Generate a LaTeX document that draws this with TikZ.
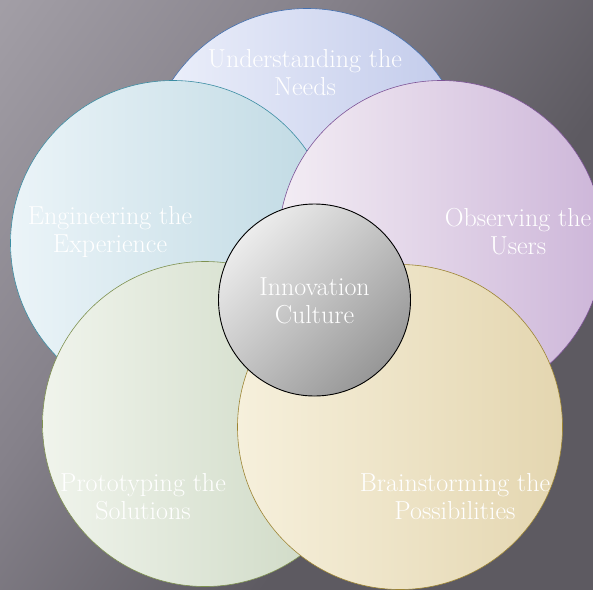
\documentclass[tikz,border=0pt]{standalone}
\usetikzlibrary{positioning}

\definecolor{bgdark}{HTML}{5D5A61}
\definecolor{bgmid}{HTML}{85818A}
\definecolor{bglight}{HTML}{B6B2B9}
\definecolor{needsL}{HTML}{EEF1FB}
\definecolor{needsR}{HTML}{C0C9EA}
\definecolor{needsE}{HTML}{4470B0}
\definecolor{engL}{HTML}{EBF4F8}
\definecolor{engR}{HTML}{BFD9E3}
\definecolor{engE}{HTML}{3C8DA3}
\definecolor{obsL}{HTML}{F3EDF4}
\definecolor{obsR}{HTML}{CDB6D9}
\definecolor{obsE}{HTML}{7D5497}
\definecolor{protoL}{HTML}{F0F4EC}
\definecolor{protoR}{HTML}{CAD6C0}
\definecolor{protoE}{HTML}{7E9150}
\definecolor{brainL}{HTML}{F6F0DC}
\definecolor{brainR}{HTML}{E4D6B0}
\definecolor{brainE}{HTML}{9C8433}
\definecolor{hubL}{HTML}{ECECEC}
\definecolor{hubR}{HTML}{979797}

\pgfdeclareverticalshading{bgshade}{100bp}{color(0bp)=(bgdark); color(38bp)=(bgdark); color(62bp)=(bgmid); color(100bp)=(bglight)}

\begin{document}
\begin{tikzpicture}[%
      x=1pt, y=-1pt,
      every node/.style={inner sep=0pt},
      petal/.style={circle, minimum size=325pt, draw, line width=0.6pt},
      caption/.style={text=white, align=center, font=\fontsize{26}{28}\selectfont}
    ]
    \useasboundingbox (0,0) rectangle (593,589);
    \clip (0,0) rectangle (593,589);
    \shade [shading=bgshade, shading angle=55] (0,0) rectangle (593,589);

    % petals
    \node [] (1) [petal, draw=needsE, left color=needsL, right color=needsR] at (307,171) {};
    \node [] (2) [petal, draw=engE, left color=engL, right color=engR] at (173,243) {};
    \node [] (3) [petal, draw=obsE, left color=obsL, right color=obsR] at (441,243) {};
    \node [] (4) [petal, draw=protoE, left color=protoL, right color=protoR] at (205,424) {};
    \node [] (5) [petal, draw=brainE, left color=brainL, right color=brainR] at (400,427) {};
    % hub
    \node [] (0) [circle, minimum size=192pt, draw=black, line width=0.9pt,
        top color=hubL, bottom color=hubR, shading angle=45] at (314.5,300) {};

    % captions
    \node [] (11) [caption] at (305,73) {Understanding the\\Needs};
    \node [] (12) [caption] at (110,232) {Engineering the\\Experience};
    \node [] (13) [caption] at (518,232) {Observing the\\Users};
    \node [] (14) [caption] at (143,497) {Prototyping the\\Solutions};
    \node [] (15) [caption] at (455,497) {Brainstorming the\\Possibilities};
    \node [] (10) [caption] at (314.5,301) {Innovation\\Culture};
\end{tikzpicture}
\end{document}
